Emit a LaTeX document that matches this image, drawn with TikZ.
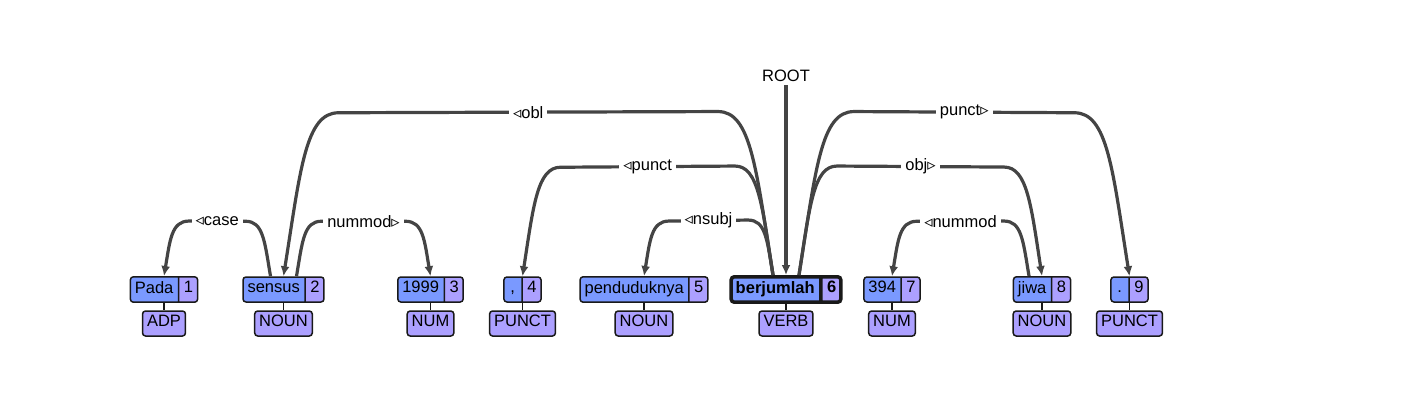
\documentclass[tikz,border=0pt]{standalone}
\usepackage{fontspec}
\setmainfont{Liberation Sans}
\newfontfamily\symfont{DejaVu Sans}
\usetikzlibrary{shapes,arrows.meta,calc}
\definecolor{wordblue}{RGB}{122,153,255}
\definecolor{poslav}{RGB}{172,160,255}
\definecolor{arcgray}{RGB}{68,68,68}
\tikzstyle{token} = [rectangle split, rectangle split horizontal, rectangle split parts=2,
    draw=black!90, line width=1.5pt, rounded corners=3pt,
    rectangle split part fill={wordblue,poslav}, inner xsep=4.5pt, inner ysep=4.25pt,
    execute at begin node=\strut]
\tikzstyle{upos} = [rectangle, draw=black!90, line width=1.5pt, fill=poslav,
    rounded corners=3pt, inner xsep=4.5pt, inner ysep=4.25pt, execute at begin node=\strut]
\tikzstyle{dep} = [draw=arcgray, line width=3.2pt, -{Latex[length=10pt,width=9pt]}]
\tikzstyle{lbl} = [fill=white, inner xsep=4pt, inner ysep=1pt]
\tikzstyle{stem} = [draw=black!90, line width=1.5pt]
\newcommand\ltri{{\symfont ◃}}
\newcommand\rtri{{\symfont ▹}}

\begin{document}
\begin{tikzpicture}[x=1pt, y=-1pt, node distance=34pt,
    font=\fontsize{16.5}{16.5}\selectfont]
   \useasboundingbox (0,0) rectangle (1424,404);
   % Place nodes
    \node [token] (t1) at (164,289.5) {Pada \nodepart{two} 1};
    \node [token, right of=t1, node distance=119.5pt] (t2) {sensus \nodepart{two} 2};
    \node [token, right of=t2, node distance=147pt] (t3) {1999 \nodepart{two} 3};
    \node [token, right of=t3, node distance=92pt] (t4) {\makebox[8.5pt]{,} \nodepart{two} 4};
    \node [token, right of=t4, node distance=121.5pt] (t5) {penduduknya \nodepart{two} 5};
    \node [token, right of=t5, node distance=142pt, line width=3.5pt] (t6) {\textbf{berjumlah} \nodepart{two} \textbf{6}};
    \node [token, right of=t6, node distance=106pt] (t7) {394 \nodepart{two} 7};
    \node [token, right of=t7, node distance=150pt] (t8) {jiwa \nodepart{two} 8};
    \node [token, right of=t8, node distance=87.5pt] (t9) {\makebox[8.5pt]{.} \nodepart{two} 9};
    \node [upos, below of=t1] (p1) {ADP};
    \node [upos, below of=t2] (p2) {NOUN};
    \node [upos, below of=t3] (p3) {NUM};
    \node [upos, below of=t4] (p4) {PUNCT};
    \node [upos, below of=t5] (p5) {NOUN};
    \node [upos, below of=t6] (p6) {VERB};
    \node [upos, below of=t7] (p7) {NUM};
    \node [upos, below of=t8] (p8) {NOUN};
    \node [upos, below of=t9] (p9) {PUNCT};
    \node (root) at (786,76) {ROOT};
   % Draw edges
    \path [stem] (t1) -- (p1);
    \path [stem] (t2) -- (p2);
    \path [stem] (t3) -- (p3);
    \path [stem] (t4) -- (p4);
    \path [stem] (t5) -- (p5);
    \path [stem] (t6) -- (p6);
    \path [stem] (t7) -- (p7);
    \path [stem] (t8) -- (p8);
    \path [stem] (t9) -- (p9);
    \path [dep] (root) -- (t6);
    \path [dep] ($(t2.north)+(-13,0)$) .. controls +(-6,-36) and +(17.5,0) .. ($(t2.north)+(-38,-55)$)
      -- node [lbl] {\ltri case} ($(t1.north)+(25,-55)$) .. controls +(-17.5,0) and +(6,-36) .. (t1.north);
    \path [dep] ($(t2.north)+(13,0)$) .. controls +(6,-36) and +(-17.5,0) .. ($(t2.north)+(38,-55)$)
      -- node [lbl] {nummod\rtri} ($(t3.north)+(-25,-55)$) .. controls +(17.5,0) and +(-6,-36) .. (t3.north);
    \path [dep] ($(t6.north)+(-13,0)$) .. controls +(-17,-107) and +(33,0) .. ($(t6.north)+(-68,-163.5)$)
      -- node [lbl] {\ltri obl} ($(t2.north)+(55,-163.5)$) .. controls +(-33,0) and +(17,-107) .. (t2.north);
    \path [dep] ($(t6.north)+(-13,0)$) .. controls +(-11,-71.5) and +(23,0) .. ($(t6.north)+(-51,-109)$)
      -- node [lbl] {\ltri punct} ($(t4.north)+(38,-109)$) .. controls +(-23,0) and +(11,-71.5) .. (t4.north);
    \path [dep] ($(t6.north)+(-13,0)$) .. controls +(-6,-36) and +(17.5,0) .. ($(t6.north)+(-38,-55)$)
      -- node [lbl] {\ltri nsubj} ($(t5.north)+(25,-55)$) .. controls +(-17.5,0) and +(6,-36) .. (t5.north);
    \path [dep] ($(t6.north)+(13,0)$) .. controls +(11,-71.5) and +(-23,0) .. ($(t6.north)+(51,-109)$)
      -- node [lbl] {obj\rtri} ($(t8.north)+(-38,-109)$) .. controls +(23,0) and +(-11,-71.5) .. (t8.north);
    \path [dep] ($(t6.north)+(13,0)$) .. controls +(17,-107) and +(-33,0) .. ($(t6.north)+(68,-163.5)$)
      -- node [lbl] {punct\rtri} ($(t9.north)+(-55,-163.5)$) .. controls +(33,0) and +(-17,-107) .. (t9.north);
    \path [dep] ($(t8.north)+(-13,0)$) .. controls +(-6,-36) and +(17.5,0) .. ($(t8.north)+(-38,-55)$)
      -- node [lbl] {\ltri nummod} ($(t7.north)+(25,-55)$) .. controls +(-17.5,0) and +(6,-36) .. (t7.north);
\end{tikzpicture}
\end{document}
